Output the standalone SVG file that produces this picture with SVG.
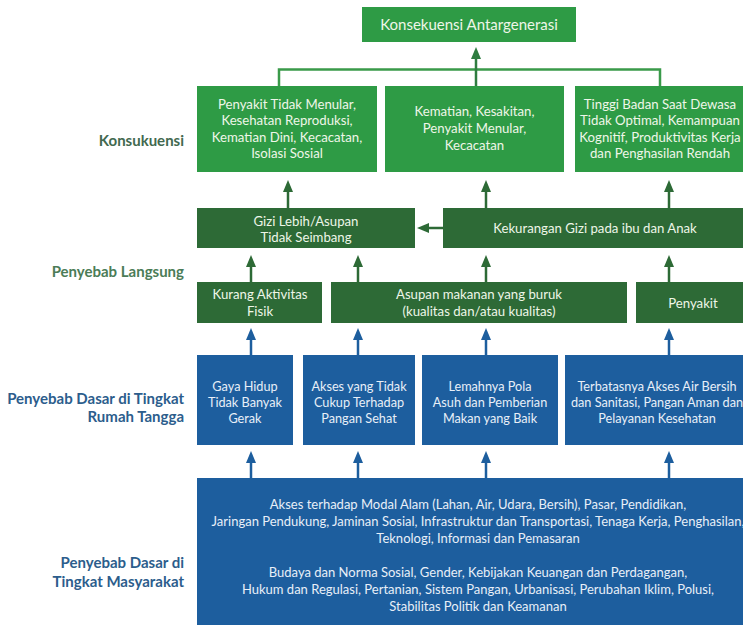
<svg xmlns="http://www.w3.org/2000/svg" width="743" height="625" viewBox="0 0 743 625">
<defs>
<marker id="ahG" markerUnits="userSpaceOnUse" markerWidth="12" markerHeight="10" refX="2" refY="5" orient="auto"><path d="M0,0 L12,5 L0,10 z" fill="#2d6a36"/></marker>
<marker id="ahT" markerUnits="userSpaceOnUse" markerWidth="12" markerHeight="10" refX="2" refY="5" orient="auto"><path d="M0,0 L12,5 L0,10 z" fill="#2f7d40"/></marker>
<marker id="ahB" markerUnits="userSpaceOnUse" markerWidth="12" markerHeight="10" refX="2" refY="5" orient="auto"><path d="M0,0 L12,5 L0,10 z" fill="#1d5e9e"/></marker>
<style>
text{font-family:Lato,"Liberation Sans",sans-serif}
.lg{fill:#2e9b45}
.dg{fill:#2d6a36}
.bl{fill:#1d5e9e}
.t{font-size:13.2px;fill:#eef6e8;text-anchor:middle}
.tb{font-size:12.7px;fill:#e8eff8;text-anchor:middle}
.tm{font-size:13px;fill:#e8eff8;text-anchor:middle}
.lab{font-size:15px;font-weight:bold;text-anchor:end}
.ag{stroke:#2d6a36;stroke-width:2.5;fill:none;marker-end:url(#ahG)}
.at{stroke:#2f7d40;stroke-width:2.5;fill:none;marker-end:url(#ahT)}
.ab{stroke:#1d5e9e;stroke-width:2.5;fill:none;marker-end:url(#ahB)}
</style>
</defs>
<rect width="743" height="625" fill="#ffffff"/>

<g id="labels">
<text class="lab" x="184" y="146" fill="#42694f">Konsukuensi</text>
<text class="lab" x="184" y="277" fill="#4b7c57">Penyebab Langsung</text>
<text class="lab" x="184" y="404" fill="#2c5d8c">Penyebab Dasar di Tingkat</text>
<text class="lab" x="184" y="422" fill="#2c5d8c">Rumah Tangga</text>
<text class="lab" x="184" y="568" fill="#2c5d8c">Penyebab Dasar di</text>
<text class="lab" x="184" y="587" fill="#2c5d8c">Tingkat Masyarakat</text>
</g>

<g id="connectors">
<polyline points="279,86 279,69.5 660,69.5 660,86" stroke="#3a9a4a" stroke-width="2.5" fill="none"/>
<line class="at" x1="476" y1="86" x2="476" y2="57"/>
<line class="ag" x1="288" y1="208" x2="288" y2="190"/>
<line class="ag" x1="486" y1="208" x2="486" y2="190"/>
<line class="ag" x1="669" y1="208" x2="669" y2="190"/>
<line class="ag" x1="443" y1="228" x2="427" y2="228"/>
<line class="ag" x1="251" y1="282" x2="251" y2="265"/>
<line class="ag" x1="358" y1="282" x2="358" y2="265"/>
<line class="ag" x1="486" y1="282" x2="486" y2="265"/>
<line class="ag" x1="669" y1="282" x2="669" y2="265"/>
<line class="ab" x1="251" y1="355" x2="251" y2="338"/>
<line class="ab" x1="358" y1="355" x2="358" y2="338"/>
<line class="ab" x1="486" y1="355" x2="486" y2="338"/>
<line class="ab" x1="669" y1="355" x2="669" y2="338"/>
<line class="ab" x1="251" y1="478" x2="251" y2="461"/>
<line class="ab" x1="358" y1="478" x2="358" y2="461"/>
<line class="ab" x1="486" y1="478" x2="486" y2="461"/>
<line class="ab" x1="669" y1="478" x2="669" y2="461"/>
</g>

<g id="n-top">
<rect class="lg" x="362" y="7" width="214" height="35"/>
<text class="t" x="469" y="30.3" style="font-size:15px">Konsekuensi Antargenerasi</text>
</g>

<g id="n-k1">
<rect class="lg" x="197" y="86" width="180" height="86"/>
<text class="t" x="287"><tspan x="287" y="108.6">Penyakit Tidak Menular,</tspan><tspan x="287" y="125.1">Kesehatan Reproduksi,</tspan><tspan x="287" y="141.6">Kematian Dini, Kecacatan,</tspan><tspan x="287" y="158.1">Isolasi Sosial</tspan></text>
</g>
<g id="n-k2">
<rect class="lg" x="385" y="86" width="179" height="86"/>
<text class="t" x="474.5"><tspan x="474.5" y="115.6">Kematian, Kesakitan,</tspan><tspan x="474.5" y="132.6">Penyakit Menular,</tspan><tspan x="474.5" y="149.6">Kecacatan</tspan></text>
</g>
<g id="n-k3">
<rect class="lg" x="575" y="86" width="180" height="86"/>
<text class="t" x="660"><tspan x="660" y="108.6">Tinggi Badan Saat Dewasa</tspan><tspan x="660" y="125.1">Tidak Optimal, Kemampuan</tspan><tspan x="660" y="141.6">Kognitif, Produktivitas Kerja</tspan><tspan x="660" y="158.1">dan Penghasilan Rendah</tspan></text>
</g>

<g id="n-gizi">
<rect class="dg" x="197" y="208" width="218" height="40"/>
<text class="t" x="306"><tspan x="306" y="226.3">Gizi Lebih/Asupan</tspan><tspan x="306" y="242.3">Tidak Seimbang</tspan></text>
</g>
<g id="n-kurang-gizi">
<rect class="dg" x="443" y="208" width="310" height="40"/>
<text class="t" x="595" y="232.6">Kekurangan Gizi pada ibu dan Anak</text>
</g>

<g id="n-aktivitas">
<rect class="dg" x="197" y="282" width="125" height="41"/>
<text class="t" x="260"><tspan x="260" y="299.1">Kurang Aktivitas</tspan><tspan x="260" y="315.6">Fisik</tspan></text>
</g>
<g id="n-asupan">
<rect class="dg" x="331" y="282" width="296" height="41"/>
<text class="t" x="479"><tspan x="479" y="299.1">Asupan makanan yang buruk</tspan><tspan x="479" y="315.6">(kualitas dan/atau kualitas)</tspan></text>
</g>
<g id="n-penyakit">
<rect class="dg" x="636" y="282" width="120" height="41"/>
<text class="t" x="693" y="307.6">Penyakit</text>
</g>

<g id="n-gaya">
<rect class="bl" x="197" y="355" width="96" height="90"/>
<text class="tb" x="245"><tspan x="245" y="391.4">Gaya Hidup</tspan><tspan x="245" y="407.4">Tidak Banyak</tspan><tspan x="245" y="423.4">Gerak</tspan></text>
</g>
<g id="n-akses">
<rect class="bl" x="303" y="355" width="112" height="90"/>
<text class="tb" x="359"><tspan x="359" y="391.4">Akses yang Tidak</tspan><tspan x="359" y="407.4">Cukup Terhadap</tspan><tspan x="359" y="423.4">Pangan Sehat</tspan></text>
</g>
<g id="n-pola">
<rect class="bl" x="422" y="355" width="136" height="90"/>
<text class="tb" x="490"><tspan x="490" y="391.4">Lemahnya Pola</tspan><tspan x="490" y="407.4">Asuh dan Pemberian</tspan><tspan x="490" y="423.4">Makan yang Baik</tspan></text>
</g>
<g id="n-air">
<rect class="bl" x="565" y="355" width="185" height="90"/>
<text class="tb" x="657"><tspan x="657" y="391.4">Terbatasnya Akses Air Bersih</tspan><tspan x="657" y="407.4">dan Sanitasi, Pangan Aman dan</tspan><tspan x="657" y="423.4">Pelayanan Kesehatan</tspan></text>
</g>

<g id="n-masyarakat">
<rect class="bl" x="197" y="478" width="562" height="147"/>
<text class="tm" x="478"><tspan x="478" y="508.5">Akses terhadap Modal Alam (Lahan, Air, Udara, Bersih), Pasar, Pendidikan,</tspan><tspan x="478" y="525.5">Jaringan Pendukung, Jaminan Sosial, Infrastruktur dan Transportasi, Tenaga Kerja, Penghasilan,</tspan><tspan x="478" y="542.5">Teknologi, Informasi dan Pemasaran</tspan><tspan x="478" y="576.5">Budaya dan Norma Sosial, Gender, Kebijakan Keuangan dan Perdagangan,</tspan><tspan x="478" y="593.5">Hukum dan Regulasi, Pertanian, Sistem Pangan, Urbanisasi, Perubahan Iklim, Polusi,</tspan><tspan x="478" y="610.5">Stabilitas Politik dan Keamanan</tspan></text>
</g>
</svg>
